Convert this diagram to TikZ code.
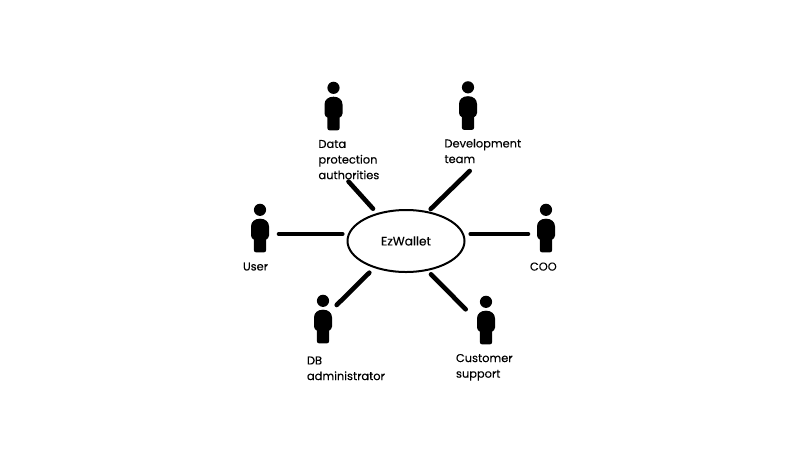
\documentclass[tikz,border=0pt]{standalone}
\usepackage{fontspec}
\usetikzlibrary{shapes.geometric}
\setmainfont[FakeBold=0.25]{Poppins}
\tikzset{
  x=1pt,y=-1pt,
  link/.style={line width=4.6pt,line cap=round},
  lbl/.style={inner sep=0pt,outer sep=0pt,align=left,font=\fontsize{11.4}{15.6}\selectfont,text=black,anchor=north west},
  actor/.pic={
    \fill (0,-28.7) circle (6.1);
    \fill (-9,-12) .. controls (-9,-17) and (-5,-19.8) .. (0,-19.8) .. controls (5,-19.8) and (9,-17) .. (9,-12)
      -- (9,-3) .. controls (9,-1) and (7.5,0.5) .. (6.2,1) -- (6.2,11.5) .. controls (6.2,13) and (5,13.8) .. (4,13.8)
      -- (-4,13.8) .. controls (-5,13.8) and (-6.2,13) .. (-6.2,11.5) -- (-6.2,1) .. controls (-7.5,0.5) and (-9,-1) .. (-9,-3) -- cycle;
  }
}
\begin{document}
\begin{tikzpicture}
\useasboundingbox (0,0) rectangle (800,456);
\node[draw,ellipse,line width=2pt,minimum width=117pt,minimum height=62pt,inner sep=0pt,font=\fontsize{12.2}{14}\selectfont] (sys) at (406,241) {EzWallet};
\pic at (333.5,116.5) {actor};
\pic at (468,116) {actor};
\pic at (260,238.5) {actor};
\pic at (546,238.5) {actor};
\pic at (323,329.5) {actor};
\pic at (486,330.5) {actor};
\node[lbl] (dp) at (318.5,140) {Data\\protection\\authorities};
\node[lbl] (dev) at (444.5,139) {Development\\team};
\node[lbl] (user) at (243,262.5) {User};
\node[lbl] (coo) at (530,262.5) {COO};
\node[lbl] (db) at (307,356.5) {DB\\administrator};
\node[lbl] (cs) at (456,354) {Customer\\support};
\coordinate (a1) at (348.5,181.5); \coordinate (a2) at (373,208.7);
\coordinate (b1) at (469.7,171); \coordinate (b2) at (430.7,209);
\coordinate (c1) at (279,234); \coordinate (c2) at (342.3,234);
\coordinate (d1) at (528,234); \coordinate (d2) at (470.7,234);
\coordinate (e1) at (336.7,305); \coordinate (e2) at (369.3,272.7);
\coordinate (f1) at (465.7,309.3); \coordinate (f2) at (431,274.3);
\draw[link] (a1) -- (a2);
\draw[link] (b1) -- (b2);
\draw[link] (c1) -- (c2);
\draw[link] (d1) -- (d2);
\draw[link] (e1) -- (e2);
\draw[link] (f1) -- (f2);
\end{tikzpicture}
\end{document}
